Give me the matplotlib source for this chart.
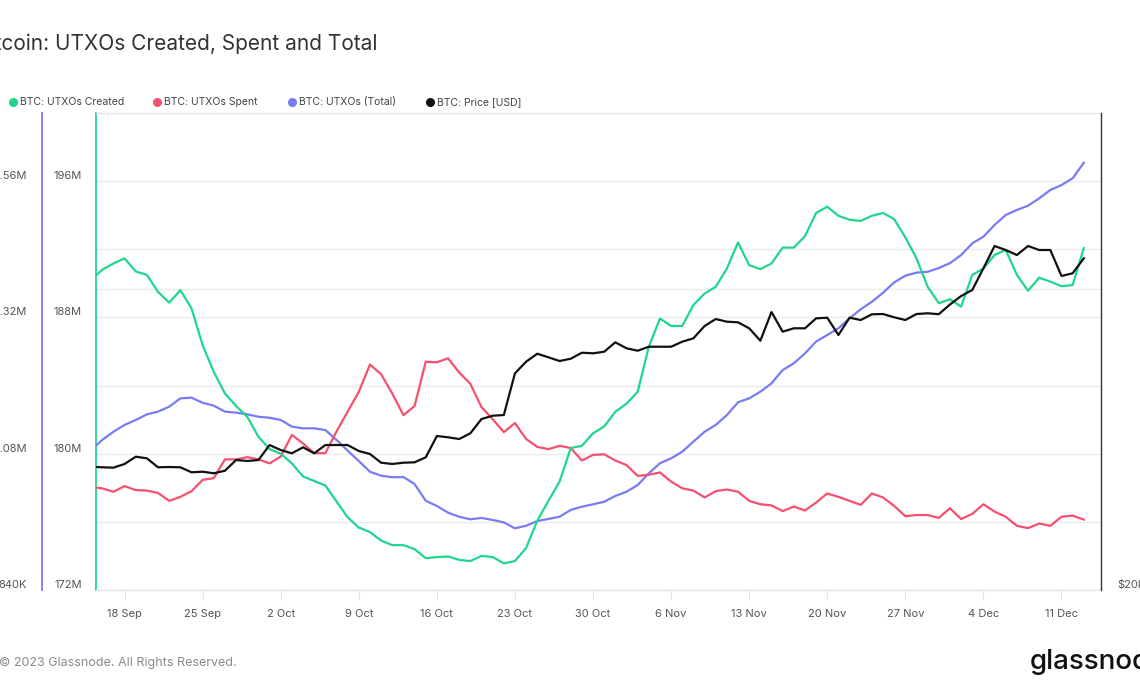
import numpy as np
import pandas as pd
import matplotlib
matplotlib.use("Agg")
import matplotlib.pyplot as plt
from matplotlib.lines import Line2D
from matplotlib.ticker import FixedLocator, FuncFormatter, NullLocator

plt.rcParams['font.family'] = ['Inter', 'DejaVu Sans']

# ---------------- data ----------------
dates = pd.date_range('2023-09-15', periods=90, freq='D')

created_k = [1386, 1404, 1415, 1424, 1401, 1395, 1365, 1346, 1368, 1336,
             1271, 1224, 1186, 1164, 1145, 1110, 1088, 1080, 1063, 1040,
             1032, 1024, 996, 968, 950, 942, 927, 919, 919, 912,
             896, 898, 899, 893, 891, 900, 898, 887, 891, 914,
             962, 997, 1031, 1090, 1094, 1116, 1128, 1154, 1168, 1189,
             1268, 1318, 1305, 1305, 1342, 1362, 1374, 1406, 1452, 1412,
             1405, 1415, 1443, 1443, 1463, 1504, 1515, 1499, 1492, 1490,
             1499, 1504, 1493, 1461, 1424, 1374, 1345, 1352, 1339, 1395,
             1406, 1430, 1439, 1395, 1367, 1390, 1383, 1375, 1377, 1442]

spent_k = [1021, 1019, 1013, 1023, 1016, 1015, 1011, 997, 1004, 1014,
           1034, 1037, 1070, 1070, 1074, 1070, 1063, 1075, 1113, 1098,
           1081, 1081, 1119, 1154, 1189, 1237, 1220, 1186, 1148, 1164,
           1242, 1241, 1248, 1223, 1203, 1162, 1141, 1118, 1134, 1106,
           1092, 1088, 1094, 1090, 1068, 1078, 1079, 1068, 1060, 1041,
           1043, 1047, 1031, 1019, 1015, 1003, 1014, 1017, 1013, 997,
           991, 989, 979, 987, 980, 994, 1010, 1004, 997, 990,
           1010, 1003, 988, 970, 972, 972, 967, 984, 965, 974,
           991, 978, 969, 953, 949, 957, 953, 969, 971, 964]

total_m = [180.22, 180.81, 181.29, 181.69, 181.98, 182.31, 182.47, 182.76, 183.25, 183.29,
           182.99, 182.82, 182.47, 182.41, 182.31, 182.17, 182.11, 181.98, 181.59, 181.49,
           181.49, 181.39, 180.81, 180.18, 179.57, 178.94, 178.71, 178.62, 178.63, 178.22,
           177.24, 176.93, 176.54, 176.30, 176.15, 176.23, 176.11, 175.97, 175.62, 175.77,
           176.05, 176.17, 176.30, 176.70, 176.89, 177.03, 177.18, 177.52, 177.77, 178.16,
           178.85, 179.44, 179.73, 180.12, 180.71, 181.29, 181.69, 182.27, 183.02, 183.25,
           183.64, 184.13, 184.91, 185.31, 185.89, 186.58, 186.97, 187.36, 187.95, 188.48,
           188.92, 189.45, 190.06, 190.45, 190.63, 190.68, 190.90, 191.19, 191.66, 192.35,
           192.74, 193.43, 194.01, 194.31, 194.56, 194.99, 195.48, 195.77, 196.17, 197.08]

price_usd = [26568, 26532, 26508, 26734, 27186, 27086, 26532, 26550, 26532, 26228,
             26264, 26168, 26324, 26980, 26920, 26980, 27928, 27608, 27400, 27782,
             27400, 27928, 27928, 27928, 27546, 27356, 26814, 26734, 26814, 26838,
             27148, 28514, 28430, 28318, 28692, 29652, 29878, 29926, 32944, 33836,
             34464, 34180, 33890, 34070, 34544, 34496, 34624, 35382, 34898, 34704,
             35024, 35024, 35024, 35432, 35710, 36736, 37332, 37102, 37050, 36542,
             35514, 37940, 36258, 36542, 36542, 37392, 37444, 35984, 37444, 37246,
             37740, 37764, 37480, 37246, 37764, 37828, 37748, 38600, 39364, 39912,
             41958, 44170, 43762, 43262, 44170, 43762, 43762, 41222, 41478, 42934]

series_names = ['BTC: UTXOs Created', 'BTC: UTXOs Spent', 'BTC: UTXOs (Total)', 'BTC: Price [USD]']

total_ticks = [172, 176, 180, 184, 188, 192, 196]
total_labels = ['172M', '', '180M', '', '188M', '', '196M']
cs_ticks = [840, 1080, 1320, 1560]
cs_labels = ['840K', '1.08M', '1.32M', '1.56M']
price_ticks = [20000, 40000]
price_labels = ['$20k', '']
week_ticks = pd.date_range('2023-09-18', '2023-12-11', freq='7D')
week_labels = [f"{d.day} {d.strftime('%b')}" for d in week_ticks]

# ---------------- style ----------------
GREEN = '#1fd68d'
RED = '#f5506e'
BLUE = '#797bf4'
BLACK = '#111111'
GRID = '#ebebeb'
TXT = '#555555'

W, H = 1140, 694
L, R, T, B = 96, 1101, 113, 590
fig = plt.figure(figsize=(W / 100, H / 100), dpi=100)
fig.patch.set_facecolor('white')

ax = fig.add_axes([L / W, 1 - B / H, (R - L) / W, (B - T) / H])
ax.set_xlim(pd.Timestamp('2023-09-15 10:30'), pd.Timestamp('2023-12-14 13:00'))
ax.set_ylim(172, 200)
ax.plot(dates, total_m, color=BLUE, lw=1.6, zorder=3, solid_joinstyle='round')
ax.yaxis.set_major_locator(FixedLocator(total_ticks))
ax.yaxis.set_major_formatter(FuncFormatter(lambda v, p: total_labels[total_ticks.index(int(round(v)))]))
ax.grid(axis='y', color=GRID, lw=1)
ax.set_axisbelow(True)
ax.tick_params(axis='y', length=0, pad=10, labelsize=8, labelcolor=TXT)
ax.set_xticks(week_ticks)
ax.set_xticklabels(week_labels)
ax.tick_params(axis='x', length=7, width=0.8, color='#e2e2e2', pad=7, labelsize=8, labelcolor=TXT)
for s in ['top', 'bottom']:
    ax.spines[s].set_color('#e4e4e4')
    ax.spines[s].set_linewidth(1)
ax.spines['right'].set_visible(False)
ax.spines['left'].set_color(GREEN)
ax.spines['left'].set_linewidth(1.3)

# gridline for the $40k level of the log price axis
p_lo, p_hi = 20000, 60000
frac40 = np.log(40000 / p_lo) / np.log(p_hi / p_lo)
ax.plot([0, 1], [frac40, frac40], transform=ax.transAxes, color=GRID, lw=1, zorder=0.5)

# created / spent axis
ax_cs = ax.twinx()
ax_cs.set_ylim(840, 1680)
ax_cs.plot(dates, spent_k, color=RED, lw=1.6, zorder=3, solid_joinstyle='round')
ax_cs.plot(dates, created_k, color=GREEN, lw=1.6, zorder=3, solid_joinstyle='round')
ax_cs.yaxis.tick_left()
ax_cs.yaxis.set_major_locator(FixedLocator(cs_ticks))
ax_cs.yaxis.set_major_formatter(FuncFormatter(lambda v, p: cs_labels[cs_ticks.index(int(round(v)))]))
ax_cs.tick_params(axis='y', length=0, pad=11, labelsize=8, labelcolor=TXT)
for s in ['right', 'top', 'bottom']:
    ax_cs.spines[s].set_visible(False)
ax_cs.spines['left'].set_visible(True)
ax_cs.spines['left'].set_position(('axes', -54 / (R - L)))
ax_cs.spines['left'].set_color(BLUE)
ax_cs.spines['left'].set_linewidth(1.3)

# price axis
ax_px = ax.twinx()
ax_px.set_yscale('log')
ax_px.set_ylim(p_lo, p_hi)
ax_px.plot(dates, price_usd, color=BLACK, lw=1.6, zorder=4, solid_joinstyle='round')
ax_px.yaxis.set_major_locator(FixedLocator(price_ticks))
ax_px.yaxis.set_minor_locator(NullLocator())
ax_px.yaxis.set_major_formatter(FuncFormatter(lambda v, p: price_labels[price_ticks.index(int(round(v)))]))
ax_px.tick_params(axis='y', which='both', length=0, pad=12, labelsize=8, labelcolor=TXT)
for s in ['left', 'top', 'bottom']:
    ax_px.spines[s].set_visible(False)
ax_px.spines['right'].set_color('#333333')
ax_px.spines['right'].set_linewidth(1)

for a in (ax, ax_cs, ax_px):
    for lbl in a.get_yticklabels():
        lbl.set_verticalalignment('bottom')

# ---------------- texts ----------------
fig.text(378 / W, 1 - 44 / H, 'Bitcoin: UTXOs Created, Spent and Total', ha='right', va='center',
         fontsize=15, color='#333333')

leg_colors = [GREEN, RED, BLUE, BLACK]
leg_x = [13, 157, 292, 430]
for name, c, x in zip(series_names, leg_colors, leg_x):
    fig.add_artist(Line2D([x / W], [1 - 102 / H], marker='o', ms=5.5, color=c, linestyle='none',
                          transform=fig.transFigure))
    fig.text((x + 7) / W, 1 - 102 / H, name, ha='left', va='center', fontsize=7.5, color='#444444')

fig.text(237 / W, 1 - 663 / H, '© 2023 Glassnode. All Rights Reserved.', ha='right', va='center',
         fontsize=9, color='#8a8a8a')
fig.text(1030 / W, 1 - 662 / H, 'glassnode', ha='left', va='center', fontsize=20, color='#111111',
         fontweight='medium')

fig.savefig('out.png', dpi=100)
